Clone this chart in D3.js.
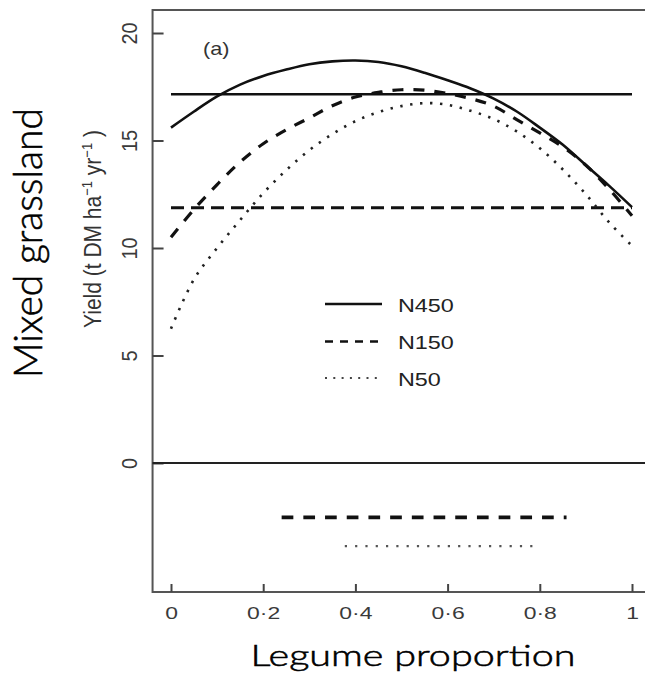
<!DOCTYPE html>
<html>
<head>
<meta charset="utf-8">
<script src="https://cdn.jsdelivr.net/npm/d3@7"></script>
<style>
  html, body { margin: 0; padding: 0; background: #fff; }
  svg { display: block; }
</style>
</head>
<body>
<svg id="chart" width="645" height="681"></svg>
<script>
// Legume proportion in the sward (x) and modelled dry-matter yield (t DM/ha/yr)
const proportion = [0, 0.05, 0.1, 0.15, 0.2, 0.25, 0.3, 0.35, 0.4, 0.45, 0.5,
                    0.55, 0.6, 0.65, 0.7, 0.75, 0.8, 0.85, 0.9, 0.95, 1];
const yieldN450 = [15.6, 16.35, 17.05, 17.6, 18.0, 18.3, 18.55, 18.68, 18.72, 18.65, 18.45,
                   18.15, 17.8, 17.42, 16.95, 16.35, 15.6, 14.8, 13.85, 12.9, 11.9];
const yieldN150 = [10.5, 11.8, 12.95, 14.0, 14.85, 15.5, 16.05, 16.62, 17.02, 17.24, 17.36,
                   17.34, 17.18, 16.95, 16.6, 15.97, 15.35, 14.7, 13.85, 12.75, 11.5];
const yieldN50  = [6.25, 8.55, 10.0, 11.3, 12.55, 13.62, 14.55, 15.3, 15.9, 16.32, 16.6,
                   16.74, 16.66, 16.38, 16.0, 15.42, 14.64, 13.65, 12.5, 11.2, 10.1];
const seriesNames = ["N450", "N150", "N50"];

// Horizontal benchmark yields (solid, dashed)
const benchmarkLevels = [17.15, 11.87];

// Proportion ranges shown below the zero line (N150 dashed, N50 dotted)
const rangeStart = [0.24, 0.377];
const rangeEnd   = [0.858, 0.796];
const rangeLevel = [-2.53, -3.87];

const xTicks = [0, 0.2, 0.4, 0.6, 0.8, 1];
const xTickLabels = ["0", "0·2", "0·4", "0·6", "0·8", "1"];
const yTicks = [0, 5, 10, 15, 20];

const svg = d3.select("#chart");
const plotFont = "'Liberation Sans', Arial, sans-serif";
const outerFont = "Lato, 'Open Sans', sans-serif";

const x = d3.scaleLinear().domain([-0.04, 1.04]).range([152.56, 650.44]);
const y = d3.scaleLinear().domain([-6, 21.07]).range([592, 10]);

// line styles per series
const styles = {
  N450: { dash: null,      width: 2.6, color: "#111" },
  N150: { dash: "11,10",   width: 3.2, color: "#111" },
  N50:  { dash: "2.4,7.6", width: 2.6, color: "#222" }
};

// plot frame (left, top, bottom; right side runs off the page)
svg.append("path")
  .attr("d", `M${x(1.04)},${y(21.07)}H${x(-0.04)}V${y(-6)}H${x(1.04)}`)
  .attr("fill", "none")
  .attr("stroke", "#555")
  .attr("stroke-width", 2);

// x axis with inward ticks
const xAxis = d3.axisBottom(x)
  .tickValues(xTicks)
  .tickFormat((d, i) => xTickLabels[i])
  .tickSizeInner(-8)
  .tickSizeOuter(0);
const gx = svg.append("g").attr("transform", `translate(0,${y(-6)})`).call(xAxis);
gx.select(".domain").remove();
gx.selectAll(".tick line").attr("stroke", "#444").attr("stroke-width", 2);
gx.selectAll(".tick text")
  .attr("y", 27).attr("dy", null)
  .attr("transform", "scale(1.35,1)")
  .attr("fill", "#3a3a3a")
  .style("font-family", plotFont)
  .style("font-size", "17px");

// y axis with inward ticks and rotated labels
const yAxis = d3.axisLeft(y)
  .tickValues(yTicks)
  .tickSizeInner(-11)
  .tickSizeOuter(0);
const gy = svg.append("g").attr("transform", `translate(${x(-0.04)},0)`).call(yAxis);
gy.select(".domain").remove();
gy.selectAll(".tick line").attr("stroke", "#444").attr("stroke-width", 2);
gy.selectAll(".tick text")
  .attr("x", null).attr("dy", null)
  .attr("text-anchor", "middle")
  .attr("transform", "translate(-15.5,0) scale(1.1,1) rotate(-90)")
  .attr("fill", "#3a3a3a")
  .style("font-family", plotFont)
  .style("font-size", "20px");

// zero line across the panel
svg.append("line")
  .attr("x1", x(-0.04)).attr("x2", x(1.04))
  .attr("y1", y(0)).attr("y2", y(0))
  .attr("stroke", "#222").attr("stroke-width", 2);

// benchmark lines
benchmarkLevels.forEach((lvl, i) => {
  svg.append("line")
    .attr("x1", x(0)).attr("x2", x(1))
    .attr("y1", y(lvl)).attr("y2", y(lvl))
    .attr("stroke", "#111")
    .attr("stroke-width", i === 0 ? 2.6 : 3)
    .attr("stroke-dasharray", i === 0 ? null : "13,7");
});

// yield curves
const line = d3.line()
  .x(d => x(d[0]))
  .y(d => y(d[1]))
  .curve(d3.curveCatmullRom.alpha(0.5));
const seriesValues = [yieldN450, yieldN150, yieldN50];
seriesNames.forEach((name, i) => {
  const pts = proportion.map((p, j) => [p, seriesValues[i][j]]);
  const s = styles[name];
  svg.append("path")
    .datum(pts)
    .attr("d", line)
    .attr("fill", "none")
    .attr("stroke", s.color)
    .attr("stroke-width", s.width)
    .attr("stroke-dasharray", s.dash);
});

// ranges below zero
const rangeStyles = [
  { dash: "11.7,10", width: 3.6, color: "#111" },
  { dash: "2.2,8.1", width: 2.2, color: "#555" }
];
rangeStart.forEach((r0, i) => {
  svg.append("line")
    .attr("x1", x(r0)).attr("x2", x(rangeEnd[i]))
    .attr("y1", y(rangeLevel[i])).attr("y2", y(rangeLevel[i]))
    .attr("stroke", rangeStyles[i].color)
    .attr("stroke-width", rangeStyles[i].width)
    .attr("stroke-dasharray", rangeStyles[i].dash);
});

// legend
const legendRows = [304, 341.5, 378];
const legendDash = { N450: null, N150: "8,7", N50: "2,6.3" };
seriesNames.forEach((name, i) => {
  const ly = legendRows[i];
  svg.append("line")
    .attr("x1", 325).attr("x2", 382)
    .attr("y1", ly).attr("y2", ly)
    .attr("stroke", i === 2 ? "#444" : "#111")
    .attr("stroke-width", i === 2 ? 2.2 : 2.4)
    .attr("stroke-dasharray", legendDash[name]);
  svg.append("text")
    .attr("transform", `translate(398,${ly + 7.5}) scale(1.23,1)`)
    .attr("fill", "#222")
    .style("font-family", plotFont)
    .style("font-size", "19px")
    .text(name);
});

// panel tag
svg.append("text")
  .attr("transform", "translate(203,55) scale(1.2,1)")
  .attr("fill", "#333")
  .style("font-family", plotFont)
  .style("font-size", "18px")
  .text("(a)");

// y axis title with superscripts
const yTitle = svg.append("text")
  .attr("transform", "translate(101,229) scale(1.15,1) rotate(-90)")
  .attr("text-anchor", "middle")
  .attr("fill", "#333")
  .style("font-family", plotFont)
  .style("font-size", "21px");
yTitle.append("tspan").text("Yield (t DM ha");
yTitle.append("tspan").attr("baseline-shift", "super").style("font-size", "13px").text("−1");
yTitle.append("tspan").text(" yr");
yTitle.append("tspan").attr("baseline-shift", "super").style("font-size", "13px").text("−1");
yTitle.append("tspan").text(" )");

// outer labels: size each so its run length and letter height fit the space beside the panel
function fittedLabel(str, runLength, capHeight, rotated, cx, cy) {
  const t = svg.append("text")
    .attr("text-anchor", "middle")
    .attr("fill", "#000")
    .attr("stroke", "#000")
    .attr("stroke-width", 0.55)
    .style("font-family", outerFont)
    .style("font-weight", 300)
    .style("font-size", "100px")
    .text(str);
  const natural = t.node().getComputedTextLength();
  if (rotated) {
    const fs = 100 * runLength / natural;
    const sx = capHeight / (0.72 * fs);
    t.style("font-size", fs + "px")
     .attr("transform", `translate(${cx},${cy}) scale(${sx},1) rotate(-90)`);
  } else {
    const fs = capHeight / 0.72;
    const sx = runLength / (natural * fs / 100);
    t.style("font-size", fs + "px")
     .attr("transform", `translate(${cx},${cy}) scale(${sx},1)`);
  }
  return t;
}
fittedLabel("Mixed grassland", 270, 29, true, 42, 243);
fittedLabel("Legume proportion", 325, 21.5, false, 413, 666);
</script>
</body>
</html>
